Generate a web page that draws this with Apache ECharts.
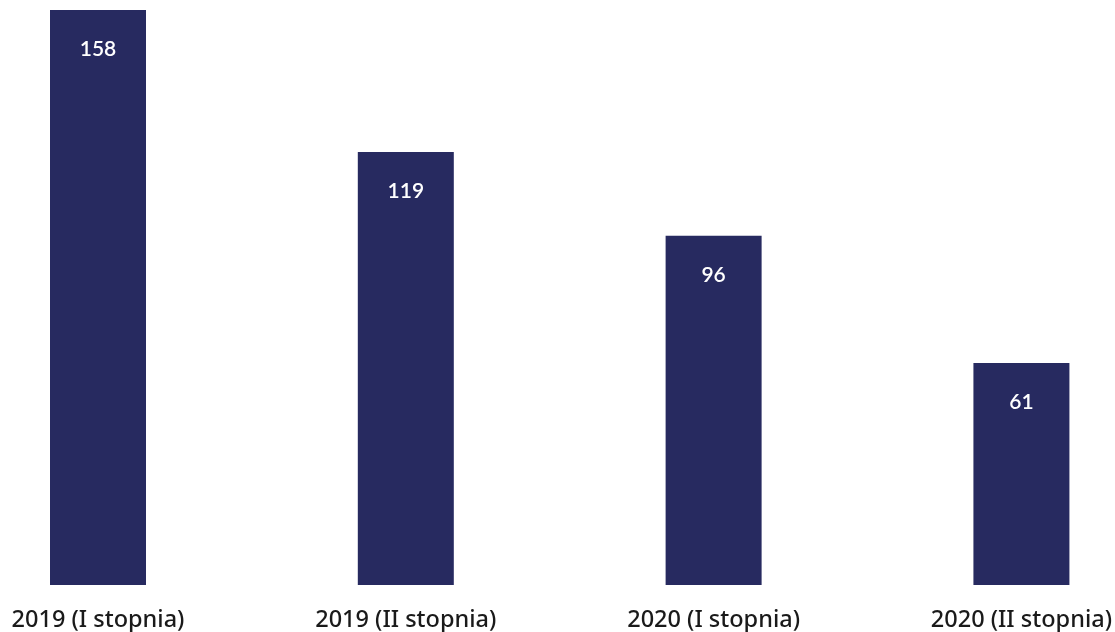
<!DOCTYPE html>
<html>
<head>
<meta charset="utf-8">
<script src="https://cdn.jsdelivr.net/npm/echarts@6/dist/echarts.min.js"></script>
<style>
  html, body { margin: 0; padding: 0; background: #fff; }
  #chart { width: 1115px; height: 632px; }
</style>
</head>
<body>
<div id="chart"></div>
<script>
// dane wykresu
const categories = ['2019 (I stopnia)', '2019 (II stopnia)', '2020 (I stopnia)', '2020 (II stopnia)'];
const values = [158, 119, 96, 61];

const chart = echarts.init(document.getElementById('chart'));

const option = {
  animation: false,
  grid: { left: 98, right: 91, top: 10, bottom: 47 },
  xAxis: {
    type: 'category',
    data: categories,
    boundaryGap: false,
    axisLine: { show: false },
    axisTick: { show: false },
    axisLabel: {
      color: '#1a1a1a',
      fontSize: 23.5,
      fontWeight: 500,
      fontFamily: 'Noto Sans',
      margin: 23,
      interval: 0
    }
  },
  yAxis: {
    type: 'value',
    min: 0,
    max: 158,
    show: false,
    splitLine: { show: false }
  },
  series: [{
    type: 'bar',
    data: values,
    barWidth: 96,
    itemStyle: { color: '#272a60' },
    label: {
      show: true,
      position: 'insideTop',
      distance: 29,
      color: '#fff',
      fontSize: 21,
      fontWeight: 600,
      fontFamily: 'Lato'
    }
  }]
};

chart.setOption(option);
</script>
</body>
</html>
